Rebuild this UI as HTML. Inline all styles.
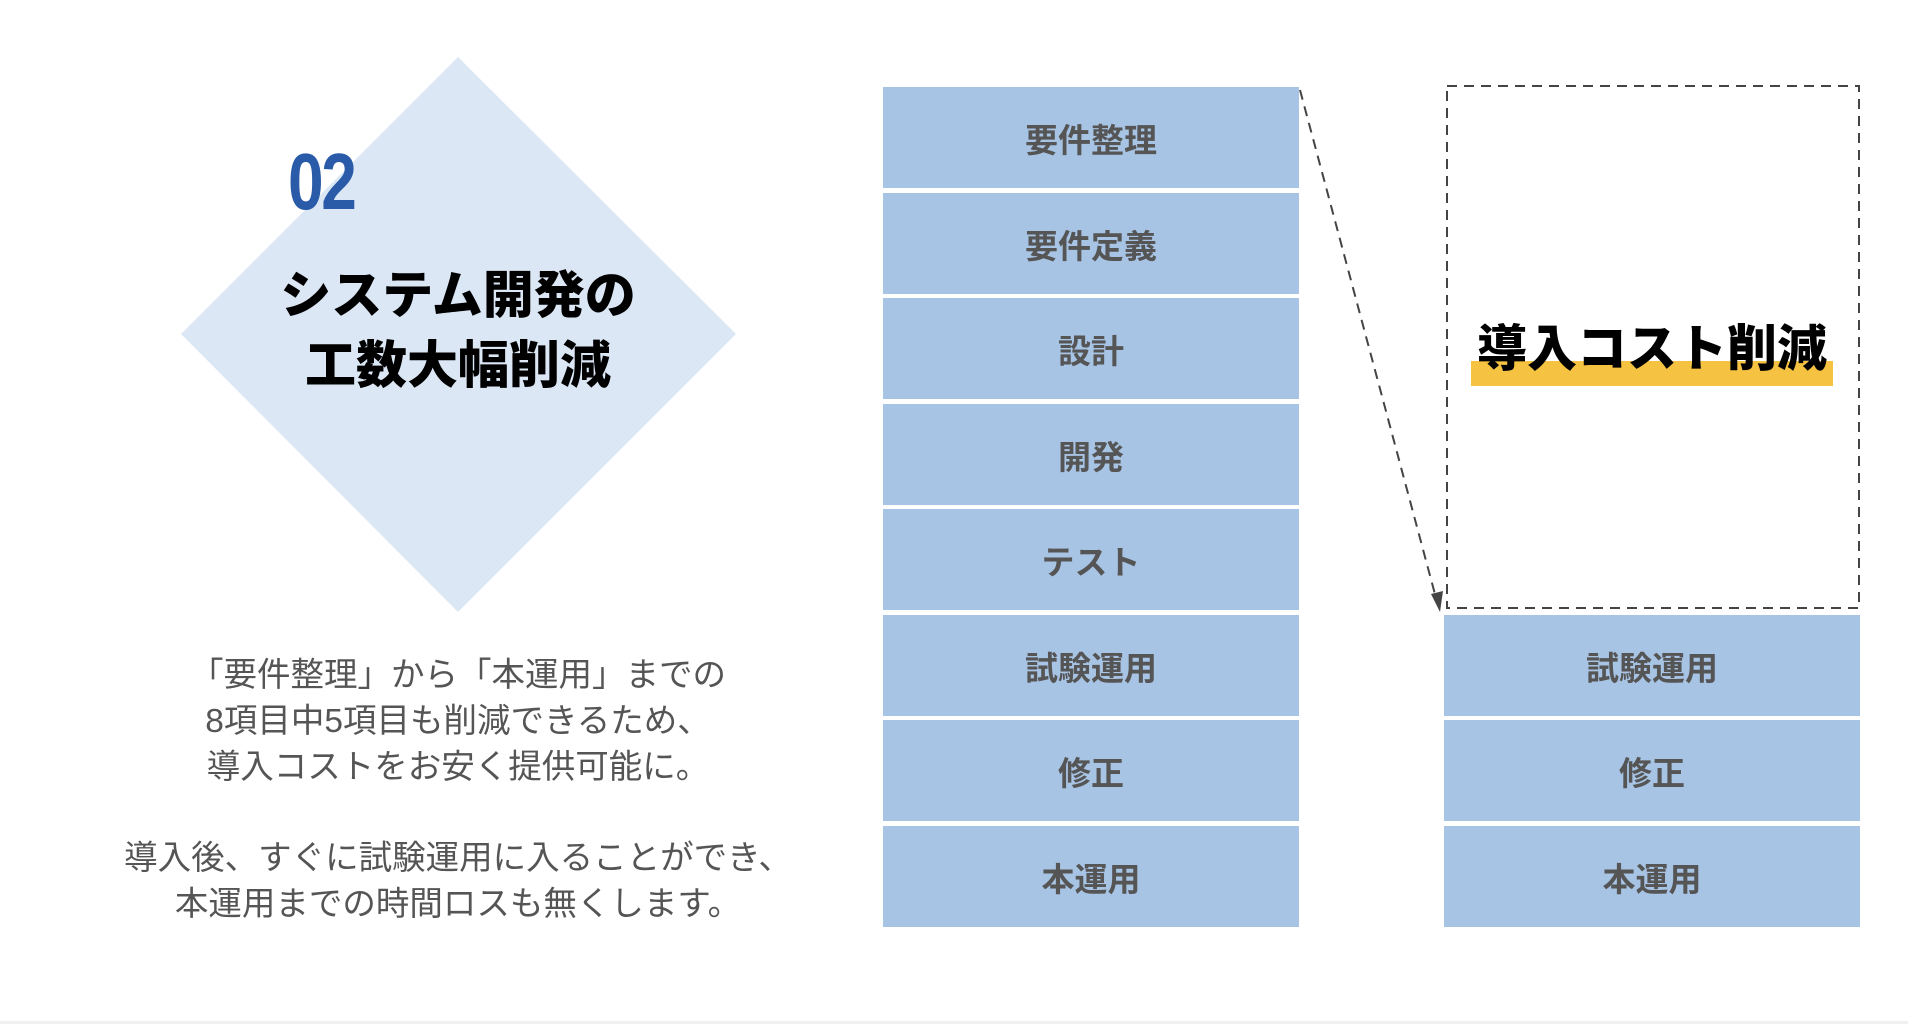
<!DOCTYPE html>
<html><head><meta charset="utf-8"><style>
body{margin:0;width:1908px;height:1024px;background:#fff;position:relative;overflow:hidden;font-family:"Liberation Sans","Noto Sans CJK JP",sans-serif}
.a{position:absolute}
.row{position:absolute;height:101px;background:#a8c4e4;color:#555;font-weight:bold;font-size:33px;display:flex;align-items:center;justify-content:center}
.t{position:absolute;left:0;width:916px;text-align:center;color:#555;font-size:33.5px;line-height:46px;white-space:nowrap}
</style></head><body>
<svg class="a" style="left:0;top:0" width="1908" height="1024">
<polygon points="458,57 736,334 458,612 181,334" fill="#dce7f5"/>
<rect x="1447" y="86" width="412" height="522" fill="none" stroke="#444" stroke-width="2" stroke-dasharray="10,7"/>
<line x1="1300" y1="90" x2="1436" y2="598" stroke="#444" stroke-width="2" stroke-dasharray="10,7"/>
<polygon points="1440,612 1431,594 1443,591" fill="#444"/>
<rect x="0" y="1021" width="1908" height="3" fill="#f0f0f0"/>
</svg>
<div class="a" style="left:288px;top:132px;font-weight:bold;font-size:80px;line-height:100px;color:#2a5ba8;letter-spacing:-3px;transform:scaleX(0.8);transform-origin:0 0">02</div>
<div class="a" style="left:158px;width:600px;top:261px;text-align:center;font-size:51px;line-height:70px;font-weight:900;color:#000">システム開発の<br>工数大幅削減</div>
<div class="t" style="top:653px">「要件整理」から「本運用」までの<br>8項目中5項目も削減できるため、<br>導入コストをお安く提供可能に。</div>
<div class="t" style="top:836px">導入後、すぐに試験運用に入ることができ、<br>本運用までの時間ロスも無くします。</div>
<div class="row" style="left:883px;width:416px;top:87px">要件整理</div>
<div class="row" style="left:883px;width:416px;top:193px">要件定義</div>
<div class="row" style="left:883px;width:416px;top:298px">設計</div>
<div class="row" style="left:883px;width:416px;top:404px">開発</div>
<div class="row" style="left:883px;width:416px;top:509px">テスト</div>
<div class="row" style="left:883px;width:416px;top:615px">試験運用</div>
<div class="row" style="left:883px;width:416px;top:720px">修正</div>
<div class="row" style="left:883px;width:416px;top:826px">本運用</div>
<div class="row" style="left:1444px;width:416px;top:615px">試験運用</div>
<div class="row" style="left:1444px;width:416px;top:720px">修正</div>
<div class="row" style="left:1444px;width:416px;top:826px">本運用</div>
<div class="a" style="left:1471px;top:361px;width:362px;height:25px;background:#f5c242"></div>
<div class="a" style="left:1446px;width:412px;top:317px;text-align:center;font-size:50px;line-height:64px;font-weight:900;color:#000">導入コスト削減</div>
</body></html>
